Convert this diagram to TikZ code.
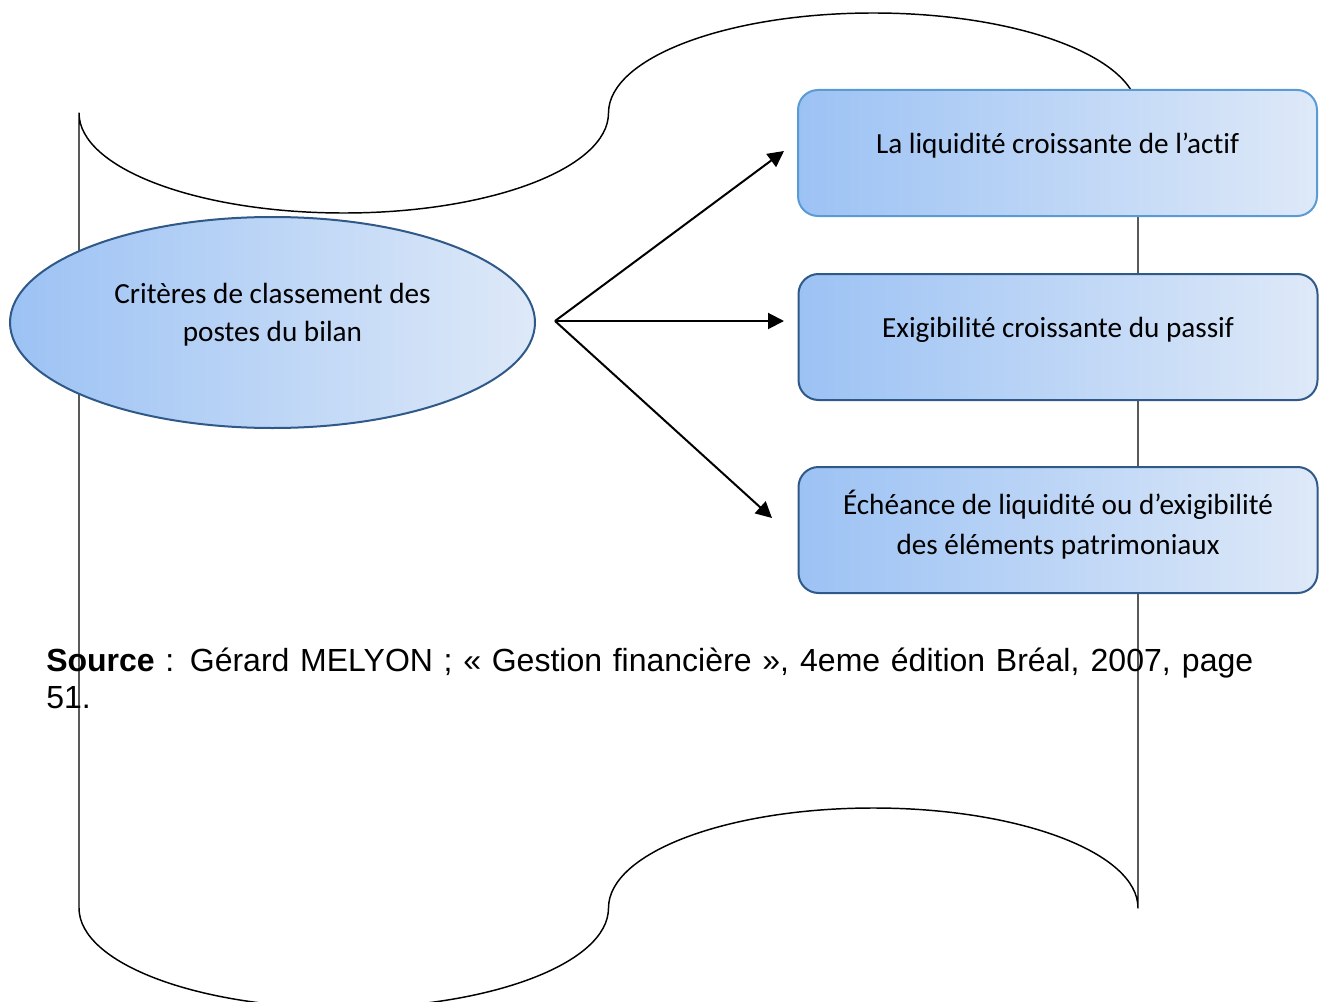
\documentclass[tikz,border=0pt]{standalone}
\usepackage{fontspec}
\setmainfont{Carlito}[Ligatures=NoCommon]
\newfontfamily\arialf{Liberation Sans}
\usetikzlibrary{arrows.meta,shapes.geometric}
\definecolor{gl}{RGB}{156,194,244}
\definecolor{gr}{RGB}{222,233,248}
\definecolor{bdark}{RGB}{47,89,136}
\definecolor{blight}{RGB}{91,155,213}
\tikzset{
  tape/.style={draw=black, line width=1.1pt, line join=round},
  critbox/.style={rectangle, rounded corners=15pt, left color=gl, right color=gr, line width=1.5pt, minimum width=389.25pt, minimum height=94.5pt, inner sep=0pt},
  crit/.style={ellipse, left color=gl, right color=gr, draw=bdark, line width=1.5pt, minimum width=393.75pt, minimum height=158.25pt, inner sep=0pt},
  lbl/.style={font=\fontsize{21.9}{30}\selectfont, align=center, inner sep=0pt},
  arr/.style={line width=1.5pt, -{Triangle[length=12pt,width=12pt]}},
  src/.style={font=\arialf\fontsize{24}{28}\selectfont, inner sep=0pt, anchor=base west}
}
\begin{document}
\begin{tikzpicture}[x=0.75pt,y=-0.75pt]
\clip (0,0) rectangle (1320,1002);
\draw[tape] (79,113) .. controls (79,168.2) and (197.5,213) .. (343.75,213)
  .. controls (490,213) and (608.5,168.2) .. (608.5,113)
  .. controls (608.5,57.8) and (727,13) .. (873.25,13)
  .. controls (1019.5,13) and (1138,57.8) .. (1138,113)
  -- (1138,908)
  .. controls (1138,852.8) and (1019.5,808) .. (873.25,808)
  .. controls (727,808) and (608.5,852.8) .. (608.5,908)
  .. controls (608.5,963.2) and (490,1008) .. (343.75,1008)
  .. controls (197.5,1008) and (79,963.2) .. (79,908)
  -- cycle;
\node[crit] (ell) at (272.5,322.5) {};
\node[lbl, font=\fontsize{21.9}{28.5}\selectfont] (ellt) at (272.5,315) {Critères de classement des\\postes du bilan};
\node[critbox, draw=blight] (b1) at (1057.5,153) {};
\node[lbl] (t1) at (1057.5,146) {La liquidité croissante de l’actif};
\node[critbox, draw=bdark] (b2) at (1058,337) {};
\node[lbl] (t2) at (1058,330) {Exigibilité croissante du passif};
\node[critbox, draw=bdark] (b3) at (1058,530) {};
\node[lbl] (t3) at (1058,525) {Échéance de liquidité ou d’exigibilité\\des éléments patrimoniaux};
\coordinate (o) at (555,321);
\coordinate (e1) at (784,151);
\coordinate (e2) at (784,321);
\coordinate (e3) at (772,518);
\draw[arr] (o) -- (e1);
\draw[arr] (o) -- (e2);
\draw[arr] (o) -- (e3);
\node[src] (s1) at (46,671) {\makebox[905.25pt][s]{\textbf{Source} : Gérard MELYON ; « Gestion financière », 4eme édition Bréal, 2007, page}};
\node[src] (s2) at (46,708) {51.};
\end{tikzpicture}
\end{document}
